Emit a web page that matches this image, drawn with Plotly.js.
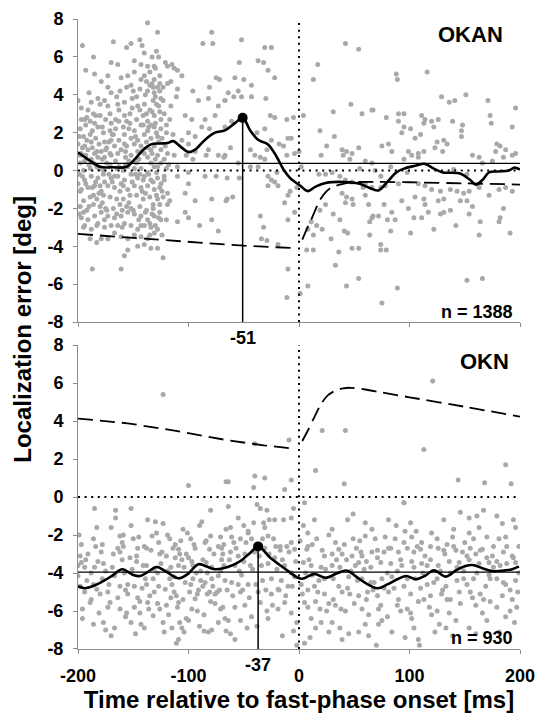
<!DOCTYPE html>
<html><head><meta charset="utf-8">
<script src="https://cdn.plot.ly/plotly-3.0.1.min.js"></script>
<style>html,body{margin:0;padding:0;background:#fff}#chart{width:536px;height:713px}</style>
</head><body><div id="chart"></div>
<script>
// ---------- tick values ----------
const xTickVals = [-200, -100, 0, 100, 200];
const xTickText = ['-200', '-100', '0', '100', '200'];
const yTickVals = [-8, -6, -4, -2, 0, 2, 4, 6, 8];
const yTickText = ['-8', '-6', '-4', '-2', '0', '2', '4', '6', '8'];

// ---------- OKAN (top panel): single trials [time ms, error deg] ----------
const okanEarlyA = [
[-137,7.8],[-128,7.3],[-168,6.8],[-196,6.6],[-152,6.7],[-144,6.9],[-142,6.6],[-186,6.0],[-156,6.5],[-170,5.7],
[-164,5.6],[-140,6.2],[-133,6.0],[-129,6.3],[-127,6.0],[-149,5.8],[-143,5.6],[-137,5.5],[-135,5.2],[-130,5.4],
[-121,5.7],[-115,5.6],[-119,5.5],[-113,5.4],[-110,5.3],[-193,5.3],[-185,5.1],[-179,4.7],[-173,5.0],[-161,4.9],
[-155,5.0],[-149,5.2],[-143,4.8],[-140,5.0],[-138,4.7],[-135,4.5],[-131,4.8],[-128,4.4],[-126,4.2],[-123,4.4],
[-119,4.6],[-116,4.7],[-110,4.3],[-111,3.9],[-123,3.7],[-131,4.1],[-137,4.2],[-144,4.3],[-150,4.2],[-156,4.4],
[-152,4.5],[-165,3.9],[-170,4.1],[-176,3.7],[-182,3.8],[-188,3.6],[-191,3.2],[-197,3.3],[-200,3.7],[-194,2.7],
[-186,3.0],[-180,2.9],[-173,3.4],[-164,3.5],[-158,3.6],[-151,3.8],[-146,3.4],[-140,3.5],[-135,3.2],[-132,3.7],
[-129,3.5],[-126,3.1],[-122,3.0],[-116,3.4],[-117,2.7],[-120,2.4],[-125,2.7],[-131,2.9],[-137,2.6],[-141,2.9],
[-147,2.7],[-153,3.0],[-158,2.9],[-163,2.6],[-170,2.5],[-175,2.7],[-182,2.3],[-187,2.1],[-193,2.4],[-198,2.2],
[-195,1.8],[-189,1.9],[-184,1.7],[-177,2.0],[-171,2.1],[-166,2.2],[-159,2.3],[-154,2.2],[-149,2.1],[-143,2.4],
[-137,2.1],[-131,2.3],[-125,2.2],[-120,2.0],[-114,1.9],[-128,1.8],[-134,1.7],[-140,1.9],[-146,1.6],[-152,1.7],
[-158,1.9],[-163,1.6],[-170,1.6],[-176,1.5],[-181,1.4],[-188,1.5],[-194,1.3],[-200,1.4],[-197,0.9],[-191,1.1],
[-185,0.9],[-179,1.0],[-174,1.2],[-167,1.3],[-161,1.1],[-156,1.3],[-149,1.4],[-143,1.3],[-137,1.2],[-131,1.3],
[-125,1.1],[-119,0.9],[-113,0.8],[-122,0.6],[-128,0.8],[-133,0.9],[-140,0.9],[-146,1.0],[-152,0.8],[-157,0.7],
[-164,0.9],[-170,0.8],[-176,0.7],[-182,0.7],[-188,0.6],[-194,0.5],[-198,0.4],[-195,0.0],[-189,0.1],[-183,0.2],
[-177,0.0],[-171,0.3],[-165,0.1],[-159,0.0],[-155,0.2],[-149,0.1],[-143,0.1],[-137,-0.1],[-131,0.2],[-125,0.4],
[-120,0.1],[-122,-0.3],[-128,-0.4],[-134,-0.5],[-140,-0.3],[-146,-0.4],[-152,-0.2],[-158,-0.5],[-164,-0.3],[-170,-0.4],
[-176,-0.6],[-182,-0.4],[-188,-0.3],[-194,-0.5],[-200,-0.7],[-197,-1.0],[-191,-0.9],[-185,-0.8],[-179,-1.1],[-173,-0.8],
[-167,-0.9],[-161,-0.7],[-155,-1.0],[-149,-0.8],[-143,-0.9],[-137,-0.8],[-131,-1.0],[-125,-0.7],[-119,-1.2],[-123,-1.4],
[-129,-1.3],[-135,-1.4],[-141,-1.5],[-147,-1.3],[-153,-1.3],[-159,-1.5],[-165,-1.5],[-171,-1.4],[-177,-1.3],[-183,-1.5],
[-189,-1.4],[-195,-1.6],[-198,-1.9],[-192,-2.1],[-186,-1.8],[-180,-1.9],[-174,-2.1],[-168,-2.0],[-162,-1.8],[-156,-1.9],
[-150,-2.1],[-144,-1.9],[-138,-2.1],[-132,-2.0],[-126,-2.2],[-119,-1.8],[-117,-1.6],[-125,-2.6],[-131,-2.4],[-137,-2.6],
[-143,-2.4],[-149,-2.3],[-155,-2.2],[-161,-2.4],[-167,-2.5],[-173,-2.4],[-179,-2.2],[-185,-2.4],[-191,-2.6],[-197,-2.5],
[-194,-2.9],[-188,-3.1],[-182,-2.8],[-176,-3.0],[-170,-2.9],[-164,-2.9],[-158,-2.8],[-152,-2.9],[-146,-3.1],[-140,-2.9],
[-134,-3.0],[-128,-3.1],[-143,-3.5],[-137,-3.6],[-131,-3.3],[-149,-3.4],[-155,-3.6],[-161,-3.5],[-167,-3.3],[-173,-3.6],
[-179,-3.6],[-183,-3.8],[-146,-4.0],[-134,-4.1],[-128,-4.1],[-155,-4.2],[-158,-4.5],[-123,-4.6],[-161,-5.2],[-187,-5.2]
];
const okanEarlyB = [
[-133,3.1],[-130,2.5],[-127,1.5],[-134,0.4],[-129,-0.1],[-126,-0.9],[-132,-1.8],[-127,-2.5],[-135,-2.8],[-130,3.9],
[-124,1.7],[-138,1.5],[-136,-0.2],[-142,-1.1],[-145,0.6],[-148,1.8],[-151,-0.6],[-157,0.3],[-162,-1.1],[-166,0.5],
[-169,1.9],[-172,-0.2],[-175,1.1],[-178,-1.7],[-181,0.1],[-184,-0.6],[-187,1.2],[-190,-1.9],[-193,0.8],[-196,-0.3],
[-199,1.8],[-192,2.8],[-185,2.5],[-178,2.3],[-171,3.0],[-163,3.2],[-156,2.6],[-147,3.9],[-139,4.0],[-126,5.0],
[-131,5.5],[-122,-0.5],[-118,0.3],[-120,-2.6],[-124,-3.4],[-140,-3.9],[-152,-2.0],[-160,-3.0],[-176,-2.6],[-189,-3.6],
[-195,-3.0],[-198,-1.1],[-183,1.0],[-167,-0.3],[-154,0.5],[-144,-0.2],[-128,0.2],[-132,-0.6],[-137,0.7],[-141,2.4],
[-133,4.6],[-125,3.8],[-129,2.0],[-134,1.1],[-126,-1.8],[-139,-2.2],[-143,-2.9],[-158,1.4],[-174,0.4],[-180,-0.8],
[-186,-1.3],[-193,-0.7],[-199,-2.3],[-197,2.7],[-190,4.1],[-173,4.4],
[-198,0.8],[-195,-2.2],[-192,1.6],[-190,0.3],[-187,-0.9],[-184,2.9],[-181,-1.2],[-178,0.6],[-175,-2.0],[-172,1.5],
[-169,-0.6],[-166,2.7],[-163,0.2],[-160,-2.1],[-157,1.0],[-154,-1.7],[-151,3.3],[-148,-0.2],[-145,-2.6],[-142,1.0],
[-139,-1.2],[-136,2.3],[-133,-2.3],[-130,0.6],[-127,3.4],[-124,-1.1],[-121,1.3],[-135,-3.4],[-130,-2.9],[-126,4.6],
[-132,4.4],[-138,3.0],[-141,-0.5],[-147,0.4],[-153,2.5],[-159,-0.8],[-165,-2.3],[-171,0.9],[-177,-0.2],[-183,-2.9],
[-189,2.6],[-196,1.2],[-199,-0.2],[-186,0.4],[-180,3.5],[-168,1.9],[-162,4.2],[-144,3.2],[-134,2.4],[-128,-1.5]
];
const okanMid = [
[-106,5.0],[-96,4.2],[-91,3.7],[-88,2.3],[-81,4.4],[-78,6.7],[-87,6.7],[-82,3.8],[-75,4.9],[-72,4.8],
[-73,3.4],[-67,3.7],[-76,2.9],[-85,2.7],[-81,2.2],[-103,2.9],[-97,2.7],[-100,2.0],[-106,1.6],[-94,1.8],
[-100,1.4],[-94,1.0],[-102,0.8],[-96,0.6],[-82,1.1],[-84,0.8],[-73,0.8],[-68,0.7],[-110,0.2],[-100,-0.1],
[-100,-0.7],[-94,-1.6],[-103,-1.2],[-110,-0.3],[-85,-0.3],[-79,-1.5],[-75,-0.3],[-66,-1.6],[-103,-2.2],[-100,-2.5],
[-110,-2.7],[-73,-3.2],[-79,-2.6],[-90,-2.9],[-79,7.3],
[-52,6.9],[-31,6.5],[-25,6.5],[-54,5.7],[-37,5.8],[-32,5.7],[-28,5.3],[-22,4.9],[-58,4.9],[-50,4.8],
[-43,4.5],[-55,4.2],[-64,4.1],[-59,3.9],[-52,3.9],[-43,3.9],[-30,3.8],[-67,3.7],[-26,2.9],[-22,2.8],
[-11,2.7],[-5,2.8],[-61,2.6],[-67,2.3],[-38,2.0],[-31,2.2],[-25,1.6],[-10,1.7],[-7,1.7],[-62,1.2],
[-44,1.1],[-29,1.1],[-18,1.4],[-14,1.3],[-11,0.8],[-4,0.9],[0,1.0],[-40,0.8],[-35,0.7],[-31,0.6],
[-55,0.4],[-67,0.8],[-44,0.2],[-37,0.2],[-20,-0.1],[-65,-0.4],[-54,-0.4],[-28,-0.3],[-25,-0.5],[-22,-0.6],
[-28,-0.8],[-19,-0.8],[-65,-1.5],[-60,-1.4],[-8,-1.1],[-10,-1.3],[-2,-0.9],[-13,-1.7],[-4,-2.2],[-10,-2.6],
[-35,-2.4],[-32,-3.0],[-29,-3.7],[-34,-3.6],[-19,-3.9],[-10,-5.2],[-11,-6.7]
];
const okanLate = [
[4,2.9],[2,0.2],[7,-4.2],[13,-4.2],[8,-6.1],[1,-6.5],[20,0.8],[19,2.1],[13,4.8],[17,5.6],
[42,6.7],[54,6.4],[31,3.1],[67,3.2],[57,3.0],[47,3.5],[32,1.8],[25,1.3],[39,1.1],[43,1.0],
[48,0.9],[54,1.2],[40,0.8],[46,0.6],[60,0.5],[66,0.4],[55,0.1],[18,-0.2],[24,-0.2],[30,-0.1],
[37,-0.3],[42,-0.5],[48,-0.6],[60,-0.7],[58,-0.9],[66,-0.9],[39,-1.2],[43,-1.4],[48,-1.5],[60,-1.3],
[63,-1.8],[49,-1.8],[42,-1.7],[19,-2.1],[24,-1.8],[31,-2.3],[37,-2.6],[67,-2.4],[64,-2.7],[11,-2.7],
[16,-2.9],[21,-3.1],[8,-3.1],[13,-3.4],[29,-3.6],[41,-3.2],[44,-3.3],[64,-3.4],[48,-4.1],[54,-4.1],
[36,-4.3],[33,-5.0],[43,-6.1],[54,-5.7],
[88,5.1],[89,4.8],[116,5.2],[129,3.9],[136,3.6],[141,3.7],[151,4.0],[171,3.7],[196,3.3],[66,3.2],
[79,2.8],[90,3.0],[95,3.0],[111,2.9],[114,2.7],[120,2.6],[113,2.5],[122,2.3],[126,2.7],[139,2.6],
[148,2.4],[147,2.1],[173,2.9],[174,2.5],[193,2.3],[90,2.6],[95,2.3],[101,2.2],[93,2.0],[105,1.7],
[110,1.9],[147,1.8],[125,1.5],[131,1.6],[134,1.4],[123,1.2],[130,1.0],[75,1.3],[81,1.4],[84,1.0],
[99,1.0],[108,0.9],[113,1.0],[179,1.4],[182,1.3],[187,1.1],[178,1.0],[157,0.8],[163,0.7],[166,0.4],
[175,0.5],[185,0.7],[193,0.8],[196,0.9],[95,0.6],[102,0.8],[108,0.7],[83,0.2],[69,0.0],[74,-0.3],
[98,-0.1],[140,0.05],[152,-0.2],[74,-0.9],[78,-0.8],[90,-0.7],[108,-0.7],[114,-0.8],[120,-1.0],[128,-1.1],
[137,-1.0],[143,-1.1],[149,-1.2],[154,-1.1],[163,-0.9],[172,-1.3],[181,-1.0],[187,-0.9],[193,-1.1],[105,-1.4],
[113,-1.5],[126,-1.6],[131,-1.5],[146,-1.6],[152,-1.6],[77,-1.8],[93,-1.6],[84,-2.2],[99,-2.0],[114,-1.8],
[137,-2.1],[131,-2.2],[157,-1.9],[185,-2.0],[66,-2.5],[72,-2.4],[80,-2.6],[87,-2.6],[104,-2.5],[111,-2.5],
[117,-2.2],[128,-2.3],[154,-2.3],[182,-2.5],[181,-2.7],[83,-3.2],[101,-3.3],[122,-3.1],[142,-2.9],[164,-2.7],
[163,-3.4],[191,-3.3],[74,-3.9],[74,-4.2],[79,-4.2],[152,-5.8],[166,-5.7],[89,-6.2],[75,-7.0]
];

// ---------- OKN (bottom panel): single trials [time ms, error deg] ----------
const oknEarly = [
[-185,-0.6],[-166,-0.7],[-152,-0.6],[-166,-1.1],[-183,-1.6],[-170,-1.6],[-152,-1.5],[-137,-1.2],[-130,-1.3],[-123,-1.4],
[-197,-2.5],[-184,-2.6],[-162,-2.05],[-159,-2.0],[-164,-2.7],[-159,-2.6],[-150,-2.2],[-145,-2.1],[-140,-2.6],[-138,-2.7],
[-133,-2.05],[-129,-1.9],[-134,-2.8],[-126,-3.0],[-119,-2.0],[-117,-2.2],[-112,-2.5],[-114,-2.7],[-109,-2.75],[-105,-1.7],
[-106,-3.3],[-102,-3.0],[-98,-2.2],[-94,-2.7],[-90,-1.5],[-88,-1.3],[-85,-2.4],[-84,-2.3],[-81,-2.75],[-80,-2.05],
[-80,-0.7],[-73,-2.6],[-70,-2.7],[-69,-3.0],[-66,-1.7],[-66,0.8],[-198,-3.1],[-179,-2.9],[-162,-2.9],[-147,-3.1],
[-120,-3.1],[-108,-3.0],[-97,-3.4],[-70,-3.3],[-200,-3.6],[-194,-3.7],[-185,-3.7],[-177,-3.5],[-147,-3.4],[-138,-3.6],
[-128,-4.0],[-116,-3.7],[-109,-3.6],[-104,-3.7],[-96,-3.6],[-84,-3.45],[-79,-3.7],[-68,-3.6],[-192,-4.4],[-186,-4.6],
[-180,-5.1],[-171,-5.55],[-173,-5.8],[-167,-4.15],[-155,-4.6],[-155,-5.1],[-146,-5.3],[-144,-5.5],[-138,-4.6],[-137,-5.55],
[-144,-6.1],[-156,-6.1],[-157,-6.3],[-177,-6.6],[-186,-6.7],[-175,-7.0],[-167,-6.9],[-148,-7.2],[-128,-5.6],[-126,-5.9],
[-121,-4.85],[-120,-5.7],[-123,-6.6],[-122,-7.1],[-113,-5.0],[-111,-5.2],[-109,-5.55],[-110,-5.8],[-108,-6.6],[-106,-6.9],
[-104,-7.1],[-109,-7.5],[-111,-7.7],[-102,-6.4],[-100,-6.5],[-97,-5.9],[-94,-5.35],[-92,-5.1],[-87,-4.7],[-85,-4.5],
[-83,-5.1],[-81,-5.0],[-78,-4.7],[-76,-5.1],[-71,-5.9],[-69,-5.8],[-73,-6.6],[-86,-7.05],[-82,-7.1],[-79,-7.0],
[-66,-7.05],[-67,-6.4],[-200,-4.15],[-198,-4.7],[-194,-5.0],[-188,-5.4],[-183,-4.85],[-173,-5.0],[-162,-4.7],[-149,-4.7],
[-132,-4.3],[-131,-5.0],[-117,-4.3],[-103,-4.5],[-96,-4.3],[-91,-4.9],[-79,-4.3],[-73,-4.15],[-67,-4.4],[-197,-3.45],
[-189,-5.55],[-181,-6.1],[-162,-5.9],[-152,-6.6],[-140,-6.9],[-132,-6.25],[-191,-3.0],[-175,-3.9],[-160,-3.3],[-142,-4.8],
[-125,-3.5],[-115,-4.6],[-99,-5.0],[-89,-3.9],[-76,-5.6],[-71,-2.1],[-93,-4.0],[-112,-3.2],[-136,-5.9],[-151,-3.8],
[-168,-3.0],[-186,-2.2],[-196,-5.9],[-178,-4.3],[-158,-4.0],[-127,-2.4],[-118,-6.2],[-101,-1.9],[-86,-6.2],[-72,-4.9]
];
const oknMid = [
[-64,-0.5],[-62,-1.6],[-55,-1.1],[-50,-1.5],[-46,-1.8],[-38,-0.4],[-35,-0.6],[-29,-0.7],[-27,-1.2],[-22,-1.2],
[-14,-1.2],[-7,-1.1],[-5,-0.6],[-41,-1.35],[-32,-1.35],[-31,-1.6],[-61,-2.1],[-53,-2.2],[-46,-1.9],[-43,-2.2],
[-28,-2.05],[-23,-2.2],[-17,-2.6],[-11,-2.6],[-7,-2.4],[-4,-2.75],[-62,-2.9],[-55,-3.1],[-49,-3.0],[-31,-2.7],
[-22,-3.2],[-17,-2.8],[-58,-3.6],[-52,-4.1],[-44,-3.6],[-34,-3.6],[-28,-3.5],[-20,-3.8],[-13,-3.6],[-7,-3.98],
[-61,-4.5],[-55,-4.6],[-46,-4.6],[-37,-5.0],[-53,-5.0],[-25,-5.1],[-19,-4.85],[-10,-4.7],[-4,-4.2],[-58,-5.8],
[-49,-5.7],[-35,-5.55],[-29,-6.0],[-19,-5.9],[-13,-5.55],[-7,-6.1],[-2,-6.6],[-64,-6.5],[-53,-6.5],[-47,-6.9],
[-28,-6.4],[-5,-7.05],[-58,-7.5],[-2,-7.8],[5,-7.7],
[5,-0.3],[14,-1.2],[30,-1.7],[49,-0.9],[60,-1.35],[66,-1.7],[4,-1.5],[8,-1.9],[7,-2.75],[23,-3.1],
[30,-3.0],[36,-2.75],[39,-3.0],[43,-3.3],[48,-3.1],[52,-2.7],[57,-3.1],[61,-3.4],[66,-2.9],[4,-3.45],
[11,-3.6],[20,-3.7],[30,-3.6],[37,-3.7],[51,-3.6],[54,-3.45],[14,-4.7],[8,-4.9],[17,-5.0],[23,-5.1],
[31,-5.4],[39,-5.0],[46,-5.1],[54,-5.2],[61,-5.4],[67,-4.9],[8,-5.8],[19,-5.9],[25,-6.0],[33,-5.7],
[42,-6.0],[57,-5.9],[63,-6.2],[11,-6.4],[20,-6.6],[30,-6.6],[37,-6.9],[54,-7.1],[63,-7.3],[10,-7.4],
[27,-7.1],[39,-7.5],[60,-6.7],[5,-5.55],[23,-4.3],[36,-4.7],[57,-4.3],[65,-4.5],[8,-2.6],[16,-2.2],
[33,-2.4],[49,-2.2],[60,-2.05],[-40,-2.9],[-25,-4.3],[-50,-3.4],[-16,-4.4],[-43,-6.3],[12,-4.1],[45,-4.2],
[27,-2.0],[-59,-2.4],[-33,-4.4],[2,-4.6],[55,-2.3],[44,-1.2]
];
const oknLate = [
[81,-1.2],[95,-0.3],[101,-1.35],[131,-1.2],[146,-0.8],[154,-1.1],[161,-1.0],[167,-0.7],[179,-1.0],[194,-1.2],
[69,-2.2],[78,-2.1],[87,-2.2],[96,-1.8],[102,-2.1],[111,-2.4],[120,-1.9],[125,-2.2],[139,-2.1],[154,-1.9],
[163,-1.6],[170,-2.1],[181,-2.2],[187,-2.1],[196,-1.6],[71,-2.8],[81,-2.7],[90,-2.9],[98,-2.7],[104,-2.9],
[110,-2.75],[114,-3.1],[126,-2.7],[132,-3.0],[142,-2.8],[148,-2.9],[155,-2.7],[160,-3.0],[166,-2.75],[175,-3.1],
[185,-2.9],[193,-3.1],[74,-3.45],[83,-3.5],[93,-3.6],[102,-3.4],[111,-3.5],[119,-3.3],[126,-3.6],[136,-3.4],
[145,-3.45],[154,-3.3],[163,-3.5],[172,-3.45],[179,-3.4],[188,-3.5],[196,-3.45],[75,-4.3],[84,-4.2],[95,-4.7],
[105,-4.3],[116,-4.6],[125,-4.3],[133,-4.7],[143,-4.4],[152,-4.6],[158,-4.3],[169,-4.7],[179,-4.3],[187,-4.6],
[196,-4.4],[71,-5.2],[81,-5.0],[90,-5.4],[101,-5.1],[108,-5.5],[119,-5.2],[129,-5.1],[137,-5.4],[145,-5.0],
[157,-5.3],[164,-5.1],[173,-5.5],[184,-5.2],[193,-5.4],[72,-5.9],[80,-6.3],[92,-6.0],[102,-6.4],[120,-6.2],
[136,-6.1],[142,-6.5],[166,-6.1],[170,-6.5],[187,-6.3],[72,-6.7],[84,-7.1],[96,-7.4],[108,-7.5],[123,-7.1],
[139,-7.3],[154,-6.9],[181,-7.1],[109,-7.8],[70,-7.8],[89,-3.9],[112,-4.0],[149,-3.9],[176,-3.7],[199,-2.6],
[134,-2.5],[118,-5.8],[160,-5.7],[191,-6.0],[77,-4.8],[98,-5.9],[130,-4.9],[150,-2.4],[172,-4.1],[106,-1.8],
[88,-1.5],[140,-1.7],[184,-1.4],[198,-5.0],[127,-6.7]
];
const oknExtra = [
[-199,-2.0],[-193,-3.3],[-188,-4.0],[-182,-3.4],[-178,-2.5],[-172,-4.6],[-169,-3.7],[-164,-5.3],[-160,-2.4],[-157,-4.9],
[-153,-3.2],[-149,-5.8],[-146,-2.7],[-141,-3.6],[-139,-4.3],[-135,-5.2],[-131,-3.8],[-127,-4.7],[-124,-2.9],[-119,-3.9],
[-116,-5.3],[-113,-4.2],[-107,-2.3],[-105,-5.4],[-100,-3.2],[-98,-4.6],[-95,-2.5],[-92,-6.0],[-89,-4.4],[-87,-3.3],
[-83,-4.0],[-80,-5.5],[-77,-3.0],[-74,-5.0],[-71,-3.9],[-68,-2.5],[-65,-4.9],[-63,-3.3],[-60,-5.2],[-57,-2.7],
[-54,-3.9],[-51,-4.9],[-48,-2.4],[-45,-5.3],[-42,-3.8],[-39,-4.6],[-36,-3.1],[-33,-2.2],[-30,-4.9],[-27,-3.0],
[-24,-5.7],[-21,-2.6],[-18,-4.9],[-15,-3.3],[-12,-5.2],[-9,-2.9],[-6,-4.7],[-3,-3.4],[1,-2.3],[3,-5.1],
[6,-4.0],[9,-3.3],[12,-2.5],[15,-5.5],[18,-4.4],[21,-2.8],[24,-3.8],[27,-5.6],[31,-4.3],[34,-3.3],
[38,-5.9],[41,-2.5],[44,-4.8],[47,-3.9],[50,-5.6],[53,-4.4],[56,-2.9],[59,-3.8],[62,-5.0],[65,-3.7],
[68,-4.5],[71,-3.2],[74,-5.7],[77,-2.9],[80,-4.0],[83,-2.7],[86,-4.8],[89,-5.7],[92,-3.3],[95,-2.4],
[98,-4.3],[101,-6.1],[104,-3.7],[107,-2.6],[110,-4.8],[113,-5.4],[116,-3.6],[119,-2.6],[122,-4.5],[125,-6.0],
[128,-3.9],[131,-2.8],[134,-5.4],[137,-4.0],[140,-2.6],[143,-3.7],[146,-5.6],[149,-4.3],[152,-3.1],[155,-5.0],
[158,-2.2],[161,-4.0],[164,-2.8],[167,-5.4],[170,-3.2],[173,-4.3],[176,-2.6],[179,-5.8],[182,-3.6],[185,-4.5],
[188,-2.6],[191,-4.9],[194,-3.2],[197,-5.8],[199,-4.0],[-196,-6.4],[-170,-7.3],[-143,-6.7],[-115,-6.9],[-90,-6.8],
[-62,-7.2],[-38,-6.8],[-15,-7.3],[15,-6.9],[45,-7.2],[75,-6.5],[104,-6.9],[133,-6.9],[160,-7.2],[195,-6.6]
];
const oknHigh = [
[-123,5.4],[-40,2.8],[121,6.1],[21,3.5],[42,3.5],[-9,3.0],[113,2.5],[187,1.7],[15,1.4],[144,0.9],
[41,0.7],[168,0.75],[192,0.7],[-31,1.0],[-40,1.1],[-7,0.9],[-13,0.4],[-64,0.8],[-41,0.5],[-100,0.6],[95,-0.3]
];

// ---------- smoothed error curves, eye-position traces, means, peaks ----------
const okanSmoothX = [-200,-190,-180,-168,-156,-147,-140,-134,-126,-119,-114,-107,-100,-94,-85,-76,-67,-58,-51,-44,-37,-28,-20,-14,-8,1,8,15,25,35,45,55,65,72,80,88,95,105,114,122,130,145,155,160,166,172,180,190,195,200];
const okanSmoothY = [0.96,0.55,0.2,0.17,0.2,0.7,1.15,1.38,1.43,1.45,1.55,1.25,0.97,1.1,1.63,2.0,2.12,2.5,2.78,2.1,1.62,1.38,0.7,0.05,-0.4,-0.8,-1.09,-0.85,-0.65,-0.6,-0.62,-0.7,-0.95,-1.05,-0.6,-0.1,0.1,0.25,0.35,0.1,-0.1,-0.15,-0.5,-0.75,-0.5,-0.1,-0.05,0.0,0.15,0.05];
const oknSmoothX = [-200,-194,-186,-176,-168,-160,-150,-144,-137,-129,-121,-109,-101,-91,-84,-76,-62,-53,-44,-37,-26,-14,-1,3,14,24,35,43,52,60,71,80,90,97,106,114,122,133,142,150,157,166,175,187,193,199];
const oknSmoothY = [-4.7,-4.8,-4.68,-4.39,-4.1,-3.8,-4.1,-4.16,-3.95,-3.68,-3.9,-4.28,-4.07,-3.54,-3.65,-3.8,-3.63,-3.37,-2.93,-2.6,-3.2,-3.72,-4.25,-4.3,-4.05,-4.25,-4.0,-3.87,-4.2,-4.52,-4.8,-4.6,-4.3,-4.16,-4.33,-4.15,-3.86,-4.19,-3.86,-3.65,-3.58,-3.75,-3.9,-3.86,-3.8,-3.65];

const okanEyePreX = [-200,-150,-100,-50,-4];
const okanEyePreY = [-3.35,-3.55,-3.75,-3.97,-4.1];
const okanEyePostX = [3,7,11,15,19,24,28,33,40,48,70,100,150,200];
const okanEyePostY = [-3.65,-3.1,-2.6,-2.05,-1.55,-1.15,-0.95,-0.82,-0.7,-0.62,-0.6,-0.62,-0.68,-0.74];
const oknEyePreX = [-200,-155,-110,-64,-32,-3];
const oknEyePreY = [4.13,3.88,3.47,2.98,2.72,2.54];
const oknEyePostX = [3,8,13,20,26,33,40,46,60,75,100,150,200];
const oknEyePostY = [2.95,3.5,4.1,4.9,5.35,5.6,5.72,5.75,5.66,5.5,5.25,4.75,4.23];

const okanMean = 0.38;
const oknMean = -3.95;
const okanPeak = {t: -51, err: 2.78, label: '-51'};
const oknPeak = {t: -37, err: -2.6, label: '-37'};
const okanN = 'n = 1388';
const oknN = 'n = 930';

// ---------- build ----------
const FONT = 'Liberation Sans, Arial, sans-serif';
const GRAY = '#a9a9a9';
const AXIS = '#8c8c8c';
const okanAll = okanEarlyA.concat(okanEarlyB, okanMid, okanLate);
const oknAll = oknEarly.concat(oknMid, oknLate, oknExtra, oknHigh);
const tx = a => a.map(p => p[0]);
const ty = a => a.map(p => p[1]);

function panel(pts, sx, sy, preX, preY, postX, postY, mean, peak, xa, ya) {
  return [
    {x: tx(pts), y: ty(pts), xaxis: xa, yaxis: ya, type: 'scatter', mode: 'markers',
     marker: {color: GRAY, size: 5}, hoverinfo: 'skip'},
    {x: [-200, 200], y: [mean, mean], xaxis: xa, yaxis: ya, mode: 'lines',
     line: {color: '#000', width: 1.2}},
    {x: preX, y: preY, xaxis: xa, yaxis: ya, mode: 'lines',
     line: {color: '#000', width: 1.8, dash: '15px,7px'}},
    {x: postX, y: postY, xaxis: xa, yaxis: ya, mode: 'lines',
     line: {color: '#000', width: 1.8, dash: '15px,7px', shape: 'spline', smoothing: 0.8}},
    {x: sx, y: sy, xaxis: xa, yaxis: ya, mode: 'lines',
     line: {color: '#000', width: 2.6, shape: 'spline', smoothing: 1}},
    {x: [peak.t, peak.t], y: [peak.err, -8], xaxis: xa, yaxis: ya, mode: 'lines',
     line: {color: '#000', width: 1.5}, cliponaxis: false},
    {x: [peak.t], y: [peak.err], xaxis: xa, yaxis: ya, mode: 'markers',
     marker: {color: '#000', size: 10}}
  ];
}

const data = []
  .concat(panel(okanAll, okanSmoothX, okanSmoothY, okanEyePreX, okanEyePreY, okanEyePostX, okanEyePostY, okanMean, okanPeak, 'x2', 'y2'))
  .concat(panel(oknAll, oknSmoothX, oknSmoothY, oknEyePreX, oknEyePreY, oknEyePostX, oknEyePostY, oknMean, oknPeak, 'x', 'y'));

const tickFont = {family: FONT, size: 18, color: '#000', weight: 'bold'};
function xAxis(anchor, labels) {
  return {anchor: anchor, domain: [0, 1], range: [-200, 200], tickvals: xTickVals, ticktext: xTickText,
    showticklabels: labels, ticks: 'outside', ticklen: 4, tickwidth: 1, tickcolor: AXIS, ticklabelstandoff: 6,
    showline: true, linecolor: AXIS, linewidth: 1, showgrid: false, zeroline: false,
    tickfont: tickFont, fixedrange: true};
}
function yAxis(anchor, domain) {
  return {anchor: anchor, domain: domain, range: [-8, 8], tickvals: yTickVals, ticktext: yTickText,
    ticks: 'outside', ticklen: 4, tickwidth: 1, tickcolor: AXIS, ticklabelstandoff: 6,
    showline: true, linecolor: AXIS, linewidth: 1, showgrid: false, zeroline: false,
    tickfont: tickFont, fixedrange: true};
}
const dotLine = {color: '#000', width: 2, dash: '2px,4.6px'};

const xa = xAxis('y', true);
xa.title = {text: 'Time relative to fast-phase onset [ms]', font: {family: FONT, size: 24, color: '#000', weight: 'bold'}, standoff: 10};

const layout = {
  width: 536, height: 713,
  margin: {l: 78, r: 16, t: 19, b: 64},
  paper_bgcolor: '#fff', plot_bgcolor: '#fff',
  showlegend: false,
  font: {family: FONT, color: '#000'},
  xaxis: xa,
  yaxis: yAxis('x', [0, 0.4825]),
  xaxis2: xAxis('y2', false),
  yaxis2: yAxis('x2', [0.519, 1]),
  shapes: [
    {type: 'line', xref: 'x2', yref: 'y2', x0: -200, x1: 200, y0: 0, y1: 0, line: dotLine},
    {type: 'line', xref: 'x2', yref: 'y2', x0: 0, x1: 0, y0: -8, y1: 8, line: dotLine},
    {type: 'line', xref: 'x', yref: 'y', x0: -200, x1: 200, y0: 0, y1: 0, line: dotLine},
    {type: 'line', xref: 'x', yref: 'y', x0: 0, x1: 0, y0: -8, y1: 8, line: dotLine}
  ],
  annotations: [
    {xref: 'paper', yref: 'paper', x: -0.125, y: 0.508, text: 'Localization error [deg]', textangle: -90,
     showarrow: false, xanchor: 'center', yanchor: 'middle', font: {family: FONT, size: 24, weight: 'bold', color: '#000'}},
    {xref: 'paper', yref: 'paper', x: 0.966, y: 0.975, text: 'OKAN', showarrow: false,
     xanchor: 'right', yanchor: 'middle', font: {family: FONT, size: 22, weight: 'bold', color: '#000'}},
    {xref: 'paper', yref: 'paper', x: 0.98, y: 0.456, text: 'OKN', showarrow: false,
     xanchor: 'right', yanchor: 'middle', font: {family: FONT, size: 22, weight: 'bold', color: '#000'}},
    {xref: 'paper', yref: 'paper', x: 0.988, y: 0.535, text: okanN, showarrow: false,
     xanchor: 'right', yanchor: 'middle', font: {family: FONT, size: 18, weight: 'bold', color: '#000'}},
    {xref: 'paper', yref: 'paper', x: 0.988, y: 0.017, text: oknN, showarrow: false,
     xanchor: 'right', yanchor: 'middle', font: {family: FONT, size: 18, weight: 'bold', color: '#000'}},
    {xref: 'x2', yref: 'y2', x: okanPeak.t, y: -8, text: okanPeak.label, showarrow: false,
     xanchor: 'center', yanchor: 'top', yshift: -4, font: {family: FONT, size: 18, weight: 'bold', color: '#000'}},
    {xref: 'x', yref: 'y', x: oknPeak.t, y: -8, text: oknPeak.label, showarrow: false,
     xanchor: 'center', yanchor: 'top', yshift: -4, font: {family: FONT, size: 18, weight: 'bold', color: '#000'}}
  ]
};

Plotly.newPlot('chart', data, layout, {displayModeBar: false, staticPlot: true});
</script>
</body></html>
